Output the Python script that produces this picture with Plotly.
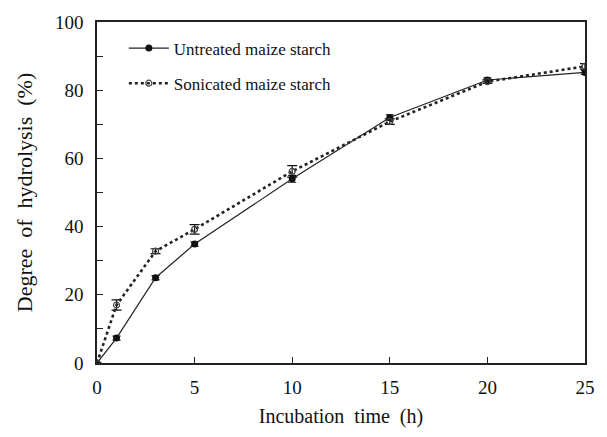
import plotly.graph_objects as go

time_h = [0, 1, 3, 5, 10, 15, 20, 25]
untreated = [0, 7.3, 25.0, 34.9, 54.0, 72.0, 83.0, 85.2]
untreated_err = [0, 0.6, 0.6, 0.6, 1.0, 0.8, 0.6, 0.6]
sonicated = [0, 17.0, 32.8, 39.2, 56.2, 70.8, 82.5, 87.0]
sonicated_err = [0, 1.5, 0.7, 1.4, 1.7, 0.8, 0.5, 0.8]

y_tickvals = [0, 10, 20, 30, 40, 50, 60, 70, 80, 90, 100]
y_ticktext = ["0", "", "20", "", "40", "", "60", "", "80", "", "100"]
x_tickvals = [0, 5, 10, 15, 20, 25]

font_family = "Liberation Serif, Times New Roman, serif"

fig = go.Figure()
fig.add_trace(go.Scatter(
    x=time_h, y=untreated, name="Untreated maize starch", legendgroup="a",
    mode="lines+markers",
    line=dict(color="#222222", width=1.2, dash="solid"),
    marker=dict(symbol="circle", size=7, color="#111111"),
    error_y=dict(type="data", array=untreated_err, color="#111111", thickness=1.2, width=4),
))
fig.add_trace(go.Scatter(
    x=time_h, y=sonicated, name="Sonicated maize starch", legendgroup="b",
    mode="lines+markers",
    line=dict(color="#222222", width=2.6, dash="dot"),
    marker=dict(symbol="circle-open", size=6, color="#444444", line=dict(width=1.2)),
    error_y=dict(type="data", array=sonicated_err, color="#111111", thickness=1.2, width=5),
))

axis_common = dict(
    showline=True, linecolor="#222222", linewidth=1.5, mirror=True,
    ticks="inside", ticklen=6, tickwidth=1.3, tickcolor="#222222",
    showgrid=False, zeroline=False,
    tickfont=dict(family=font_family, size=19, color="#111111"),
)

fig.update_layout(
    width=607, height=437,
    margin=dict(l=97, r=22, t=16, b=74),
    paper_bgcolor="white", plot_bgcolor="white",
    font=dict(family=font_family, color="#111111"),
    showlegend=True,
    legend=dict(
        x=0.055, y=0.975, xanchor="left", yanchor="top",
        bgcolor="rgba(0,0,0,0)",
        font=dict(family=font_family, size=17, color="#111111"),
        tracegroupgap=10, itemwidth=40,
    ),
    xaxis=dict(
        range=[0, 25], tickvals=x_tickvals, ticklabelstandoff=6,
        title=dict(text="Incubation  time  (h)", font=dict(family=font_family, size=20), standoff=12),
        **axis_common,
    ),
    yaxis=dict(
        range=[0, 100], tickvals=y_tickvals, ticktext=y_ticktext, ticklabelstandoff=8,
        title=dict(text="Degree  of  hydrolysis  (%)", font=dict(family=font_family, size=22), standoff=16),
        **axis_common,
    ),
)

fig.write_html("out.html")
